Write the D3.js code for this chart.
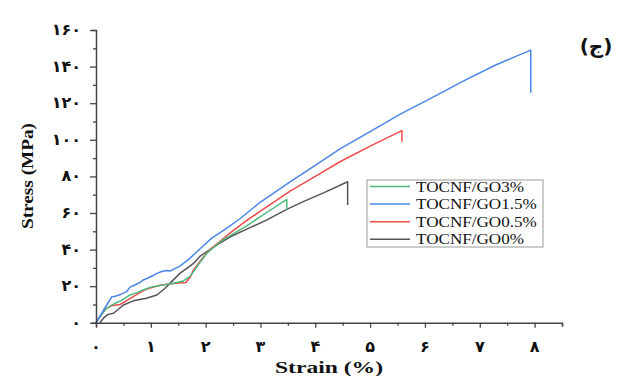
<!DOCTYPE html>
<html lang="fa">
<head>
  <meta charset="UTF-8" />
  <title>Stress-Strain</title>
  <style>
    body { margin: 0; background: #fff; }
    svg text { fill: #111; }
  </style>
</head>
<body>
<div id="chart"></div>
<script src="https://d3js.org/d3.v7.min.js"></script>
<script>
  // series: [strain %, stress MPa]
  const go3 = [[0,0],[0.1,4.5],[0.19,7.9],[0.35,10.7],[0.45,12],[0.62,15.2],[0.75,16.5],[0.86,17.9],[1.0,19.5],[1.23,20.7],[1.4,21.5],[1.59,22.8],[1.72,25.5],[1.85,31],[2.02,38],[2.3,45],[2.75,53],[3.1,60],[3.48,67.5],[3.48,61.5]];
  const go15 = [[0,0],[0.1,5],[0.2,10],[0.29,14.3],[0.35,14.5],[0.45,15.5],[0.56,17],[0.62,19.5],[0.7,20.5],[0.8,22],[0.86,23.4],[0.95,24.5],[1.05,26],[1.11,27],[1.2,28],[1.29,28.6],[1.35,28.3],[1.41,29.2],[1.53,31],[1.62,33],[1.72,35.5],[1.9,40.5],[2.1,46],[2.4,52],[2.63,57],[3.0,66],[3.54,77],[4.0,86],[4.45,95],[5.0,104.5],[5.55,114],[6.0,121],[6.76,133],[7.3,141],[7.93,149],[7.93,125.7]];
  const go05 = [[0,0],[0.1,4.5],[0.19,7.9],[0.3,9.5],[0.44,10],[0.55,12],[0.68,14.3],[0.8,16.5],[0.93,18.5],[1.05,19.5],[1.17,20.5],[1.4,21.5],[1.64,22],[1.72,25],[1.78,28.9],[1.96,36],[2.08,40],[2.4,48],[2.75,56],[3.0,61],[3.54,72],[4.0,80],[4.45,88],[5.0,96.5],[5.58,105],[5.58,99]];
  const go0 = [[0.07,0],[0.15,3],[0.22,4.6],[0.32,5.2],[0.5,9.7],[0.68,12],[0.92,13.4],[1.11,15.2],[1.26,18.9],[1.38,22.5],[1.53,27],[1.78,32.5],[1.9,36.5],[2.2,42.5],[2.45,47],[2.81,52],[3.1,56],[3.48,62],[3.8,66.5],[4.15,71],[4.59,77.1],[4.59,64.4]];

  const names = ['TOCNF/GO3%','TOCNF/GO1.5%','TOCNF/GO0.5%','TOCNF/GO0%'];
  const colors = ['#4cb97b','#4a86e8','#f04a4a','#555555'];
  const seriesList = [go3, go15, go05, go0];
  // draw order: grey, red, green, blue on top
  const drawOrder = [3, 2, 0, 1];

  const xTicks = [0,1,2,3,4,5,6,7,8];
  const yTicks = [0,20,40,60,80,100,120,140,160];
  const fa = n => String(n).replace(/\d/g, d => '۰۱۲۳۴۵۶۷۸۹'[d]);

  const W = 622, H = 376;
  const svg = d3.select('#chart').append('svg').attr('width', W).attr('height', H);

  const x = d3.scaleLinear().domain([0, 8.5]).range([96, 562]);
  const y = d3.scaleLinear().domain([0, 160]).range([322.8, 30]);

  const axisColor = '#444';

  // lines
  const line = d3.line().x(d => x(d[0])).y(d => y(d[1]));
  drawOrder.forEach(i => {
    svg.append('path').datum(seriesList[i])
      .attr('fill', 'none').attr('stroke', colors[i]).attr('stroke-width', 1.5)
      .attr('stroke-linejoin', 'round')
      .attr('d', line);
  });

  // x axis
  const gx = svg.append('g').attr('transform', `translate(0,${y(0)})`);
  gx.call(d3.axisBottom(x).tickValues(d3.range(0, 8.51, 0.5)).tickSize(4).tickFormat(''));
  gx.select('.domain').attr('stroke', axisColor).attr('stroke-width', 1.5);
  gx.selectAll('.tick line').attr('stroke', axisColor).attr('stroke-width', 1.3)
    .attr('y2', d => Number.isInteger(d) ? 5 : 3);
  svg.selectAll('.xl').data(xTicks).enter().append('text')
    .attr('class', 'xl')
    .attr('x', d => x(d)).attr('y', 352)
    .attr('text-anchor', 'middle')
    .style('font', 'bold 16px "DejaVu Sans"')
    .text(d => fa(d));

  // y axis
  const gy = svg.append('g').attr('transform', `translate(${x(0)},0)`);
  gy.call(d3.axisLeft(y).tickValues(d3.range(0, 161, 10)).tickSize(4).tickFormat(''));
  gy.select('.domain').attr('stroke', axisColor).attr('stroke-width', 1.5);
  gy.selectAll('.tick line').attr('stroke', axisColor).attr('stroke-width', 1.3)
    .attr('x2', d => d % 20 === 0 ? -6 : -3);
  gy.selectAll('.yl').data(yTicks).enter().append('text')
    .attr('x', -15 ).attr('y', d => y(d) + 5)
    .attr('text-anchor', 'end')
    .style('font', 'bold 16px "DejaVu Sans"')
    .text(d => fa(d));

  // axis titles (the source figure is stretched sideways a bit)
  svg.append('text')
    .attr('transform', 'translate(33,176) rotate(-90)')
    .attr('text-anchor', 'middle')
    .attr('textLength', 106).attr('lengthAdjust', 'spacingAndGlyphs')
    .style('font', 'bold 17px "Liberation Serif"')
    .text('Stress (MPa)');
  svg.append('text')
    .attr('x', 329).attr('y', 373)
    .attr('text-anchor', 'middle')
    .attr('textLength', 108).attr('lengthAdjust', 'spacingAndGlyphs')
    .style('font', 'bold 17px "Liberation Serif"')
    .text('Strain (%)');

  // panel label
  svg.append('text')
    .attr('x', 596).attr('y', 53)
    .attr('text-anchor', 'middle')
    .style('font', 'bold 20px "DejaVu Sans"')
    .text('(ج)');

  // legend
  const lg = svg.append('g');
  lg.append('rect').attr('x', 367).attr('y', 180).attr('width', 176).attr('height', 67)
    .attr('fill', '#fff').attr('stroke', '#999').attr('stroke-width', 1);
  names.forEach((n, i) => {
    const ry = 186.5 + i * 17.6;
    lg.append('line').attr('x1', 370).attr('x2', 410).attr('y1', ry).attr('y2', ry)
      .attr('stroke', colors[i]).attr('stroke-width', 1.5);
    const t = lg.append('text').attr('x', 416).attr('y', ry + 5)
      .style('font', '15px "Liberation Serif"')
      .text(n);
    const len = t.node().getComputedTextLength();
    t.attr('textLength', len * 1.14).attr('lengthAdjust', 'spacingAndGlyphs');
  });
</script>
</body>
</html>
